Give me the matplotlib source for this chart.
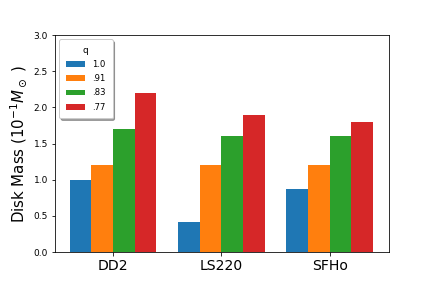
import numpy as np
import matplotlib.pyplot as plt

eos = ['DD2', 'LS220', 'SFHo']
q_labels = ['1.0', '.91', '.83', '.77']
mass_q100 = [1.0, 0.42, 0.87]
mass_q091 = [1.2, 1.2, 1.2]
mass_q083 = [1.7, 1.6, 1.6]
mass_q077 = [2.2, 1.9, 1.8]

series = [mass_q100, mass_q091, mass_q083, mass_q077]
colors = ['#1f77b4', '#ff7f0e', '#2ca02c', '#d62728']

fig = plt.figure(figsize=(6, 4), dpi=72)
ax = fig.add_axes([0.127, 0.125, 0.773, 0.753])

x = np.arange(len(eos))
w = 0.2
for i, (vals, lab) in enumerate(zip(series, q_labels)):
    ax.bar(x + (i - 1.5) * w, vals, w, color=colors[i], label=lab)

ax.set_xlim(-0.535, 2.545)
ax.set_ylim(0, 3.0)
ax.set_xticks(x)
ax.set_xticklabels(eos, fontsize=14)
ax.tick_params(axis='y', labelsize=9)
ax.set_ylabel(r'Disk Mass ($10^{-1} M_\odot$ )', fontsize=15)
ax.legend(title='q', fontsize=8.5, title_fontsize=9, loc='upper left',
          shadow=True, frameon=True, borderpad=0.8, labelspacing=0.6,
          handlelength=2.3, borderaxespad=0.5)

plt.savefig('out.png')
